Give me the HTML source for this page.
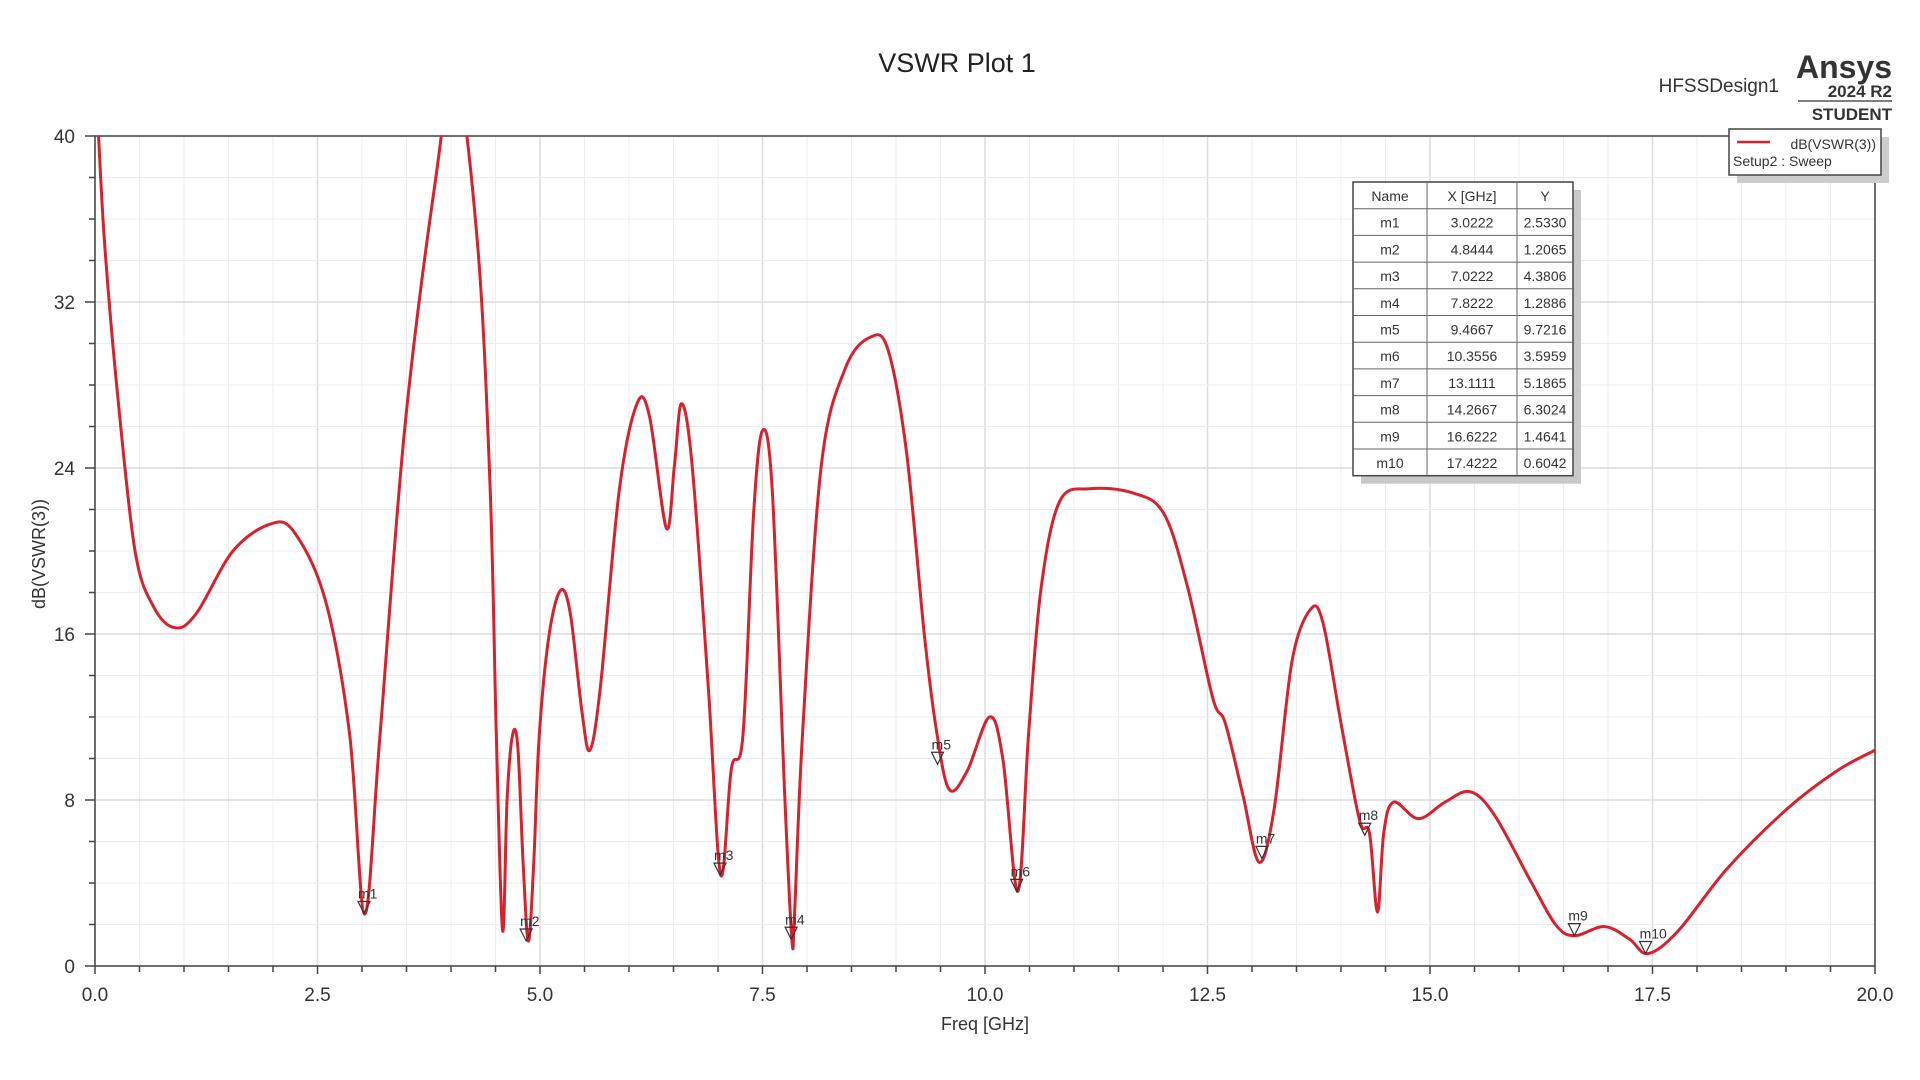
<!DOCTYPE html>
<html><head><meta charset="utf-8"><style>
body{margin:0;background:#fff;width:1920px;height:1080px;overflow:hidden;font-family:"Liberation Sans",sans-serif;}
svg{display:block}
</style></head><body>
<svg id="chart" width="1920" height="1080" font-family="Liberation Sans, sans-serif">
<text x="957" y="72" font-size="27" text-anchor="middle" fill="#222">VSWR Plot 1</text>
<text x="1779" y="92" font-size="19" text-anchor="end" fill="#333">HFSSDesign1</text>
<text x="1892" y="78" font-size="32" font-weight="bold" text-anchor="end" fill="#333">Ansys</text>
<text x="1892" y="97" font-size="17" font-weight="bold" text-anchor="end" fill="#333">2024 R2</text>
<line x1="1798" y1="101" x2="1892" y2="101" stroke="#555" stroke-width="1.5"/>
<text x="1892" y="120" font-size="17" font-weight="bold" text-anchor="end" fill="#333">STUDENT</text>
<g id="grid"></g>
<g id="axes"></g>
<clipPath id="clip"><rect x="95" y="136" width="1780" height="830"/></clipPath>
<path id="curve" clip-path="url(#clip)" fill="none" stroke="#d8212c" stroke-width="3"/>
<g id="markers"></g>
<text x="985" y="1030" font-size="18" text-anchor="middle" fill="#333">Freq [GHz]</text>
<text transform="translate(45,554) rotate(-90)" font-size="18" text-anchor="middle" fill="#333">dB(VSWR(3))</text>
<g id="table"></g>
<g>
<rect x="1737" y="137" width="152" height="46" fill="#ccc"/>
<rect x="1729" y="129" width="152" height="46" fill="#fff" stroke="#444" stroke-width="1.5"/>
<line x1="1737" y1="142" x2="1770" y2="142" stroke="#d8212c" stroke-width="2.5"/>
<text x="1876" y="149" font-size="14" text-anchor="end" fill="#333">dB(VSWR(3))</text>
<text x="1733" y="166" font-size="14" fill="#333">Setup2 : Sweep</text>
</g>
</svg>
<script>
const xs=[0.02,0.04,0.11,0.25,0.45,0.66,0.9,1.14,1.55,1.97,2.24,2.59,2.86,3.03,3.2,3.48,3.82,4.05,4.3,4.44,4.51,4.58,4.63,4.69,4.75,4.81,4.87,4.93,4.99,5.1,5.23,5.34,5.47,5.56,5.68,5.89,6.09,6.23,6.42,6.51,6.59,6.71,6.89,7.03,7.15,7.28,7.4,7.5,7.61,7.75,7.83,7.86,7.95,8.16,8.43,8.71,8.91,9.12,9.32,9.46,9.6,9.8,10.05,10.2,10.37,10.49,10.63,10.84,11.18,11.66,12.01,12.28,12.56,12.7,12.9,13.08,13.25,13.45,13.66,13.8,14.0,14.21,14.32,14.41,14.48,14.59,14.87,15.17,15.45,15.72,16.13,16.41,16.62,16.96,17.24,17.45,17.79,18.34,19.02,19.57,20.0];
const ys=[42,40,34.7,27.7,20,17.3,16.3,17,20,21.3,20.9,17.6,11.2,2.5,11,25.9,37.7,43,34.7,23,11,1.7,8,11.1,10.6,5,1.2,5,11,15.9,18.1,17,12.3,10.4,13.5,22.9,27.1,26.5,21.1,24.1,27.1,24.1,13.5,4.4,9.5,11.1,21.8,25.8,22.9,8.2,1.3,2.5,11.2,24.1,28.8,30.3,29.7,24.7,15.9,11.2,8.5,9.4,12,10,3.6,11.2,18.2,22.4,23,22.8,21.8,18.2,12.9,11.7,8.2,5,7.6,14.7,17.2,16.5,11.7,7,6.4,2.6,6.4,7.9,7.1,7.9,8.4,7.3,4.1,2,1.46,1.9,1.3,0.6,1.7,4.7,7.6,9.4,10.4];
const markerNames=["m1","m2","m3","m4","m5","m6","m7","m8","m9","m10"];
const markerX=[3.0222,4.8444,7.0222,7.8222,9.4667,10.3556,13.1111,14.2667,16.6222,17.4222];
const markerY=[2.5330,1.2065,4.3806,1.2886,9.7216,3.5959,5.1865,6.3024,1.4641,0.6042];
const xTicks=["0.0","2.5","5.0","7.5","10.0","12.5","15.0","17.5","20.0"];
const yTicks=["0","8","16","24","32","40"];
const L=95,R=1875,T=136,B=966;
const sx=v=>L+(v/20)*(R-L), sy=v=>B-(v/40)*(B-T);
const NS="http://www.w3.org/2000/svg";
function mk(t,a,p){const e=document.createElementNS(NS,t);for(const k in a)e.setAttribute(k,a[k]);p.appendChild(e);return e;}
const grid=document.getElementById('grid'),axes=document.getElementById('axes');
for(let i=0;i<=40;i++){const x=sx(i*0.5);const major=i%5==0;
 mk('line',{x1:x,y1:T,x2:x,y2:B,stroke:major?'#dcdcdc':'#ececec','stroke-width':major?1.5:1},grid);
 mk('line',{x1:x,y1:B,x2:x,y2:B+(major?8:6),stroke:'#444','stroke-width':1.5},axes);}
for(let i=0;i<=20;i++){const y=sy(i*2);const major=i%4==0;
 mk('line',{x1:L,y1:y,x2:R,y2:y,stroke:major?'#dcdcdc':'#ececec','stroke-width':major?1.5:1},grid);
 mk('line',{x1:L-(major?10:6),y1:y,x2:L,y2:y,stroke:'#444','stroke-width':1.5},axes);}
mk('rect',{x:L,y:T,width:R-L,height:B-T,fill:'none',stroke:'#444','stroke-width':1.5},axes);
xTicks.forEach((t,i)=>{const e=mk('text',{x:sx(i*2.5),y:B+35,'font-size':19,'text-anchor':'middle',fill:'#333'},axes);e.textContent=t;

});
yTicks.forEach((t,i)=>{const e=mk('text',{x:L-20,y:sy(i*8)+7,'font-size':19,'text-anchor':'end',fill:'#333'},axes);e.textContent=t;

});
const P=xs.map((x,i)=>[sx(x),sy(ys[i])]);
let d='M'+P[0][0]+','+P[0][1];
for(let i=0;i<P.length-1;i++){const p0=P[Math.max(0,i-1)],p1=P[i],p2=P[i+1],p3=P[Math.min(P.length-1,i+2)];
 const c1=[p1[0]+(p2[0]-p0[0])/6,p1[1]+(p2[1]-p0[1])/6],c2=[p2[0]-(p3[0]-p1[0])/6,p2[1]-(p3[1]-p1[1])/6];
 d+=`C${c1[0]},${c1[1]} ${c2[0]},${c2[1]} ${p2[0]},${p2[1]}`;}
document.getElementById('curve').setAttribute('d',d);
const mg=document.getElementById('markers');
markerNames.forEach((n,i)=>{const x=sx(markerX[i]),y=sy(markerY[i]);
 const tri=mk('path',{d:`M${x-6},${y-12}L${x+6},${y-12}L${x},${y}Z`,fill:'none',stroke:'#333','stroke-width':1.2},mg);
 
 
 const t=mk('text',{x:x-6,y:y-15,'font-size':14,fill:'#333'},mg);t.textContent=n;
 
 });
const tb=document.getElementById('table');
const cols=[1353,1427,1517,1573],rh=26.7,ty=182;
mk('rect',{x:cols[0]+8,y:ty+8,width:cols[3]-cols[0],height:rh*11,fill:'#c8c8c8'},tb);
mk('rect',{x:cols[0],y:ty,width:cols[3]-cols[0],height:rh*11,fill:'#fff',stroke:'#444','stroke-width':1.5},tb);
for(let r=1;r<11;r++)mk('line',{x1:cols[0],y1:ty+r*rh,x2:cols[3],y2:ty+r*rh,stroke:'#666','stroke-width':1},tb);
[1,2].forEach(c=>mk('line',{x1:cols[c],y1:ty,x2:cols[c],y2:ty+11*rh,stroke:'#666','stroke-width':1},tb));
const hdr=["Name","X [GHz]","Y"];
function cell(txt,c,r){const e=mk('text',{x:(cols[c]+cols[c+1])/2,y:ty+r*rh+19,'font-size':14,'text-anchor':'middle',fill:'#333'},tb);e.textContent=txt;}
hdr.forEach((h,c)=>cell(h,c,0));
markerNames.forEach((n,i)=>{cell(n,0,i+1);cell(markerX[i].toFixed(4),1,i+1);cell(markerY[i].toFixed(4),2,i+1);});
</script>
</body></html>
